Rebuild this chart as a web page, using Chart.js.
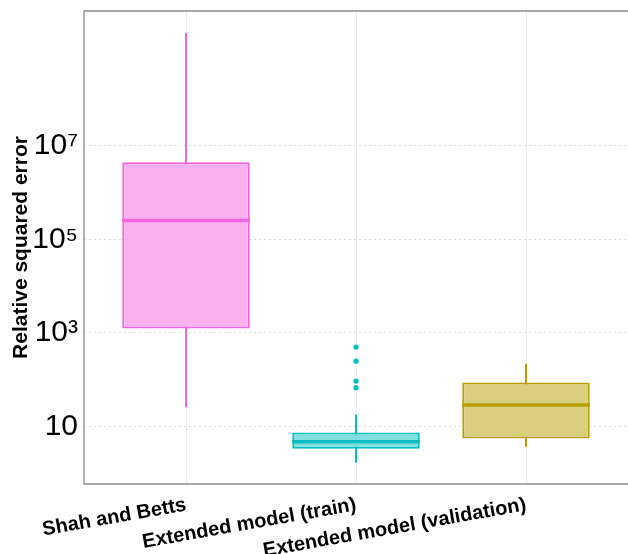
<!DOCTYPE html>
<html>
<head>
<meta charset="utf-8">
<script src="https://cdn.jsdelivr.net/npm/chart.js@4"></script>
<style>
  body { margin: 0; background: #ffffff; }
  #wrap { width: 628px; height: 554px; }
</style>
</head>
<body>
<div id="wrap"><canvas id="boxChart" width="628" height="554"></canvas></div>
<script>
// Categorias e estatisticas das caixas
const categories = ['Shah and Betts', 'Extended model (train)', 'Extended model (validation)'];
const whiskerLow = [26, 1.7, 3.75];
const q1 = [1250, 3.4, 5.6];
const median = [2.5e5, 4.8, 29];
const q3 = [4.4e6, 7.5, 88];
const whiskerHigh = [2.5e9, 18, 220];
const outlierGroup = [2, 2, 2, 2];
const outlierValues = [68, 94, 250, 500];
const yTicks = [10, 1e3, 1e5, 1e7];
const yTickLabels = ['10', '10³', '10⁵', '10⁷'];

const strokeColors = ['#F564E3', '#00BFC4', '#B79F00'];
const fillColors = ['#F9B1F0', '#7FDFE1', '#DACF7F'];
const boxWidth = 0.75;

const datasets = [];

// Caixas (barras flutuantes q1..q3)
datasets.push({
    type: 'bar',
    data: categories.map((c, i) => ({ x: i + 1, y: [q1[i], q3[i]] })),
    backgroundColor: fillColors,
    borderColor: strokeColors,
    borderWidth: 2,
    borderSkipped: false,
    barPercentage: boxWidth,
    categoryPercentage: 1,
    order: 2
});

// Bigodes
categories.forEach((c, i) => {
    datasets.push({
        type: 'line',
        data: [{ x: i + 1, y: whiskerLow[i] }, { x: i + 1, y: whiskerHigh[i] }],
        borderColor: strokeColors[i],
        borderWidth: 2,
        pointRadius: 0,
        order: 3
    });
});

// Medianas
categories.forEach((c, i) => {
    datasets.push({
        type: 'line',
        data: [{ x: i + 1 - boxWidth / 2, y: median[i] }, { x: i + 1 + boxWidth / 2, y: median[i] }],
        borderColor: strokeColors[i],
        borderWidth: 3.5,
        pointRadius: 0,
        order: 1
    });
});

// Outliers
datasets.push({
    type: 'scatter',
    data: outlierValues.map((v, k) => ({ x: outlierGroup[k], y: v })),
    backgroundColor: outlierGroup.map(g => strokeColors[g - 1]),
    borderWidth: 0,
    pointRadius: 2.6,
    order: 1
});

// Moldura do painel (esquerda, topo, base)
const panelFrame = {
    id: 'panelFrame',
    afterDraw(chart) {
        const a = chart.chartArea;
        const ctx = chart.ctx;
        ctx.save();
        ctx.strokeStyle = '#8c8c8c';
        ctx.lineWidth = 1.3;
        ctx.beginPath();
        ctx.moveTo(a.right, a.top);
        ctx.lineTo(a.left, a.top);
        ctx.lineTo(a.left, a.bottom);
        ctx.lineTo(a.right, a.bottom);
        ctx.stroke();
        ctx.restore();
    }
};

new Chart(document.getElementById('boxChart'), {
    data: { datasets: datasets },
    options: {
        responsive: false,
        animation: false,
        layout: { autoPadding: false, padding: { top: 11, right: 0, left: 0, bottom: 0 } },
        plugins: {
            legend: { display: false },
            tooltip: { enabled: false }
        },
        scales: {
            x: {
                type: 'linear',
                min: 0.4,
                max: 3.6,
                offset: false,
                afterBuildTicks: function(scale) {
                    scale.ticks = categories.map((c, i) => ({ value: i + 1 }));
                },
                afterFit: function(scale) {
                    scale.height = 70;
                    scale.paddingLeft = 0;
                    scale.paddingRight = 0;
                },
                grid: { color: '#EBEBEB', lineWidth: 1, drawTicks: false, offset: false },
                border: { display: false },
                ticks: {
                    autoSkip: false,
                    minRotation: 10,
                    maxRotation: 10,
                    padding: 9,
                    color: '#000000',
                    font: { family: 'Liberation Sans, Arial, sans-serif', size: 20, weight: 'bold' },
                    callback: function(value) { return categories[value - 1]; }
                }
            },
            y: {
                type: 'logarithmic',
                min: 0.62,
                max: 7.4e9,
                afterBuildTicks: function(scale) {
                    scale.ticks = yTicks.map(v => ({ value: v }));
                },
                afterFit: function(scale) {
                    scale.width = 84;
                    scale.paddingTop = 0;
                    scale.paddingBottom = 0;
                },
                grid: { color: '#DDDDDD', lineWidth: 1, drawTicks: false },
                border: { display: false, dash: [2, 3] },
                title: {
                    display: true,
                    text: 'Relative squared error',
                    color: '#000000',
                    font: { family: 'Liberation Sans, Arial, sans-serif', size: 21, weight: 'bold' },
                    padding: { top: 9, bottom: 0 }
                },
                ticks: {
                    padding: 6,
                    color: '#000000',
                    font: { family: 'Liberation Sans, Arial, sans-serif', size: 30 },
                    callback: function(value) {
                        const k = yTicks.indexOf(value);
                        return k >= 0 ? yTickLabels[k] : '';
                    }
                }
            }
        }
    },
    plugins: [panelFrame]
});
</script>
</body>
</html>
